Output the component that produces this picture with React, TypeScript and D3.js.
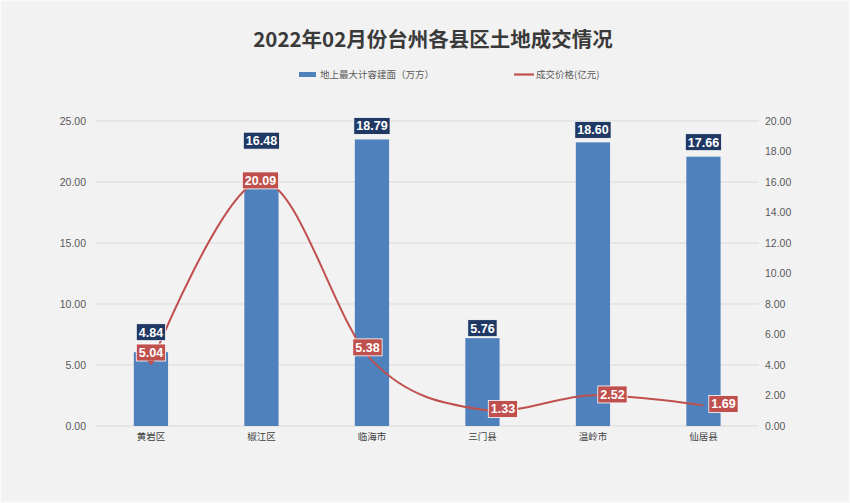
import React from "react";
import * as d3 from "d3";

const title = "2022年02月份台州各县区土地成交情况";
const categories = ["黄岩区", "椒江区", "临海市", "三门县", "温岭市", "仙居县"];
const areaName = "地上最大计容建面（万方）";
const priceName = "成交价格(亿元)";
const areaValues = [4.84, 16.48, 18.79, 5.76, 18.6, 17.66];
const priceValues = [5.04, 20.09, 5.38, 1.33, 2.52, 1.69];
const leftTicks = [0, 5, 10, 15, 20, 25];
const rightTicks = [0, 2, 4, 6, 8, 10, 12, 14, 16, 18, 20];

// label nudges (layout only)
const barLabelDy = [-20, -34, -13.5, -10, -12.5, -14.5];
const lineLabelDx = [0, -1, -4.5, 20.5, 19.5, 20];
const lineLabelDy = [-12, -0.5, -13, -0.8, -0.8, -1.4];

const W = 850;
const H = 503;
const X0 = 95.7;
const X1 = 758.7;
const Y0 = 426;
const Y1 = 121;

const BLUE = "#4f81bd";
const NAVY = "#1f3864";
const RED = "#c0504d";
const FONT = "'Noto Sans CJK SC', 'Noto Sans', sans-serif";
const NUMFONT = "'Liberation Sans', Arial, sans-serif";

function textWidth(s: string, size: number) {
  let w = 0;
  for (const ch of s) w += /[0-9]/.test(ch) ? 0.556 * size : ch === "." ? 0.278 * size : size;
  return w;
}

export default function App() {
  const x = d3.scaleBand<string>().domain(categories).range([X0, X1]).paddingInner(0).paddingOuter(0);
  const yL = d3.scaleLinear().domain([0, 25]).range([Y0, Y1]);
  const yR = d3.scaleLinear().domain([0, 20]).range([Y0, Y1]);
  const bw = x.bandwidth() * 0.31;
  const cx = (c: string) => (x(c) as number) + x.bandwidth() / 2;

  const line = d3
    .line<number>()
    .x((_, i) => cx(categories[i]))
    .y((v) => yL(v))
    .curve(d3.curveCardinal.tension(0));

  const labelBox = (
    key: string,
    cxp: number,
    cyp: number,
    text: string,
    fill: string,
    pointer?: number
  ) => {
    const fs = 12.5;
    const w = textWidth(text, fs) + 5;
    const h = 17;
    return (
      <g key={key}>
        <rect x={cxp - w / 2} y={cyp - h / 2} width={w} height={h} fill={fill} stroke="#ffffff" strokeWidth={0.8} />
        {pointer !== undefined && (
          <path
            d={`M${cxp - 4},${cyp + h / 2 - 0.5} L${cxp},${pointer} L${cxp + 4},${cyp + h / 2 - 0.5} Z`}
            fill={fill}
          />
        )}
        <text
          x={cxp}
          y={cyp}
          dy="0.36em"
          textAnchor="middle"
          fill="#ffffff"
          fontFamily={NUMFONT}
          fontWeight="bold"
          fontSize={fs}
        >
          {text}
        </text>
      </g>
    );
  };

  return (
    <svg
      width={W}
      height={H}
      viewBox={`0 0 ${W} ${H}`}
      style={{ position: "absolute", left: 0, top: 0, display: "block" }}
    >
      <rect x={0} y={0} width={W} height={H} fill="#f2f2f2" />
      <rect x={0.5} y={0.5} width={W - 1} height={H - 1} fill="none" stroke="#fbfbfb" strokeWidth={1.5} />

      <text
        x={433}
        y={40}
        dy="0.35em"
        textAnchor="middle"
        fontFamily={FONT}
        fontWeight="bold"
        fontSize={20.5}
        fill="#3a3a3a"
      >
        {title}
      </text>

      {/* legend */}
      <rect x={299} y={72} width={17} height={5} fill={BLUE} />
      <text x={320} y={74.5} dy="0.35em" fontFamily={FONT} fontSize={9.5} fill="#595959">
        {areaName}
      </text>
      <line x1={514} x2={534} y1={74.5} y2={74.5} stroke={RED} strokeWidth={2.2} />
      <text x={536} y={74.5} dy="0.35em" fontFamily={FONT} fontSize={9.5} fill="#595959">
        {priceName}
      </text>

      {/* gridlines */}
      {leftTicks.map((t) => (
        <line key={"g" + t} x1={X0} x2={X1} y1={yL(t)} y2={yL(t)} stroke="#d9d9d9" strokeWidth={1} />
      ))}

      {/* left axis labels */}
      {leftTicks.map((t) => (
        <text
          key={"l" + t}
          x={86}
          y={yL(t)}
          dy="0.35em"
          textAnchor="end"
          fontFamily={NUMFONT}
          fontSize={10.5}
          fill="#595959"
        >
          {t.toFixed(2)}
        </text>
      ))}
      {/* right axis labels */}
      {rightTicks.map((t) => (
        <text
          key={"r" + t}
          x={765}
          y={yR(t)}
          dy="0.35em"
          textAnchor="start"
          fontFamily={NUMFONT}
          fontSize={10.5}
          fill="#595959"
        >
          {t.toFixed(2)}
        </text>
      ))}

      {/* bars */}
      {areaValues.map((v, i) => (
        <rect
          key={"b" + i}
          x={cx(categories[i]) - bw / 2}
          y={yR(v)}
          width={bw}
          height={Y0 - yR(v)}
          fill={BLUE}
        />
      ))}

      {/* category labels */}
      {categories.map((c) => (
        <text
          key={"c" + c}
          x={cx(c)}
          y={437}
          dy="0.35em"
          textAnchor="middle"
          fontFamily={FONT}
          fontSize={9.5}
          fill="#404040"
        >
          {c}
        </text>
      ))}

      {/* line */}
      <path d={line(priceValues) || ""} fill="none" stroke={RED} strokeWidth={2} />

      {/* bar labels */}
      {areaValues.map((v, i) =>
        labelBox("bl" + i, cx(categories[i]), yR(v) + barLabelDy[i], v.toFixed(2), NAVY)
      )}

      {/* line labels */}
      {priceValues.map((v, i) =>
        labelBox(
          "ll" + i,
          cx(categories[i]) + lineLabelDx[i],
          yL(v) + lineLabelDy[i],
          v.toFixed(2),
          RED,
          i === 0 ? yL(v) : undefined
        )
      )}
    </svg>
  );
}
